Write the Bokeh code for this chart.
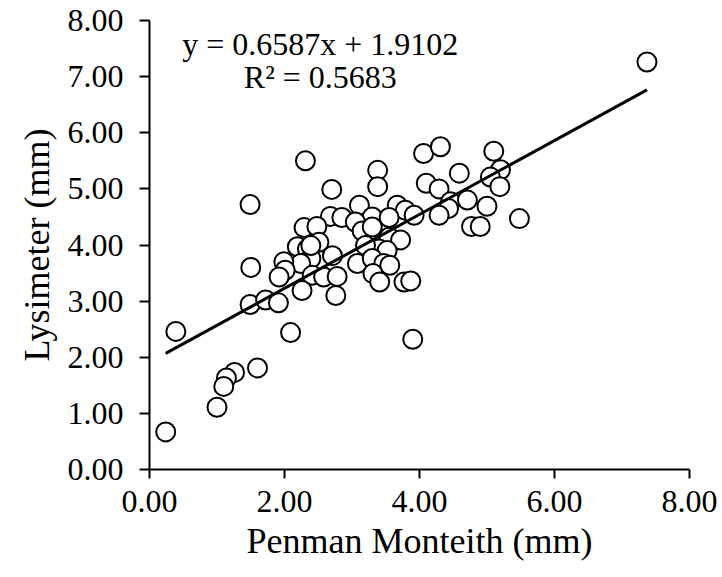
from bokeh.plotting import figure
from bokeh.models import Range1d, FixedTicker, NumeralTickFormatter, Label
from bokeh.embed import file_html
from bokeh.resources import INLINE

# Data
penman_monteith = [
    2.31, 2.70, 1.49, 2.68, 2.85, 2.29, 2.48, 2.19, 2.51, 2.34,
    2.71, 2.39, 2.24, 1.99, 2.01, 1.92, 1.50, 2.41, 2.58, 2.78,
    2.26, 2.76, 1.49, 1.72, 1.91, 0.39, 2.09, 4.06, 4.31, 5.10,
    3.38, 3.38, 4.10, 4.29, 4.59, 5.20, 5.05, 5.19, 3.11, 3.67,
    3.79, 3.92, 4.46, 4.43, 4.71, 4.29, 5.00, 5.48, 4.77, 4.90,
    3.30, 3.55, 3.05, 3.15, 3.30, 3.55, 3.72, 3.40, 3.52, 3.20,
    3.08, 3.30, 3.47, 3.56, 3.31, 3.41, 3.77, 3.87, 2.39, 3.90,
    1.60, 1.26, 1.14, 1.10, 1.00, 0.24, 7.37,
]
lysimeter = [
    5.50, 4.99, 4.72, 4.51, 4.49, 4.31, 4.33, 3.97, 4.05, 3.93,
    3.81, 3.76, 3.67, 3.70, 3.55, 3.43, 3.60, 3.46, 3.43, 3.44,
    3.19, 3.10, 2.94, 3.02, 2.97, 2.46, 2.44, 5.63, 5.75, 5.67,
    5.33, 5.04, 5.10, 5.00, 5.28, 5.34, 5.21, 5.04, 4.71, 4.71,
    4.62, 4.53, 4.77, 4.65, 4.80, 4.53, 4.69, 4.47, 4.33, 4.33,
    4.50, 4.49, 4.41, 4.25, 4.32, 4.14, 4.09, 3.93, 3.90, 3.99,
    3.67, 3.76, 3.67, 3.64, 3.49, 3.34, 3.34, 3.36, 3.99, 2.32,
    1.81, 1.73, 1.63, 1.48, 1.11, 0.67, 7.26,
]
slope = 0.6587
intercept = 1.9102
r_squared = 0.5683
x_ticks = [0, 2, 4, 6, 8]
y_ticks = [0, 1, 2, 3, 4, 5, 6, 7, 8]

FONT = "Liberation Serif"

p = figure(width=722, height=577, output_backend="svg", toolbar_location=None,
           x_range=Range1d(0, 8), y_range=Range1d(0, 8),
           min_border_left=149, min_border_right=33,
           min_border_top=20, min_border_bottom=108)
p.outline_line_color = None
p.xgrid.grid_line_color = None
p.ygrid.grid_line_color = None
p.background_fill_color = "white"
p.border_fill_color = "white"

for ax, ticks in ((p.xaxis[0], x_ticks), (p.yaxis[0], y_ticks)):
    ax.ticker = FixedTicker(ticks=ticks)
    ax.formatter = NumeralTickFormatter(format="0.00")
    ax.minor_tick_line_color = None
    ax.major_tick_in = 0
    ax.axis_line_color = "black"
    ax.axis_line_width = 2
    ax.major_tick_line_color = "black"
    ax.major_tick_line_width = 2
    ax.major_label_text_font = FONT
    ax.major_label_text_font_size = "32px"
    ax.major_label_text_color = "black"
    ax.axis_label_text_font = FONT
    ax.axis_label_text_font_size = "36px"
    ax.axis_label_text_font_style = "normal"
    ax.axis_label_text_color = "black"

p.xaxis.axis_label = "Penman Monteith (mm)"
p.yaxis.axis_label = "Lysimeter (mm)"
p.xaxis.major_tick_out = 9
p.yaxis.major_tick_out = 10
p.xaxis.major_label_standoff = 12
p.yaxis.major_label_standoff = 16
p.xaxis.axis_label_standoff = 6
p.yaxis.axis_label_standoff = 8

p.scatter(penman_monteith, lysimeter, size=19, marker="circle",
          fill_color="white", line_color="black", line_width=2)

x0, x1 = min(penman_monteith), max(penman_monteith)
p.line([x0, x1], [slope * x0 + intercept, slope * x1 + intercept],
       line_color="black", line_width=3)

eq = Label(x=2.53, y=7.59, text=f"y = {slope}x + {intercept}",
           text_font=FONT, text_font_size="32px", text_color="black",
           text_align="center", text_baseline="middle")
r2 = Label(x=2.53, y=6.99, text=f"R² = {r_squared}",
           text_font=FONT, text_font_size="32px", text_color="black",
           text_align="center", text_baseline="middle")
p.add_layout(eq)
p.add_layout(r2)

open("out.html", "w").write(file_html(p, INLINE))
